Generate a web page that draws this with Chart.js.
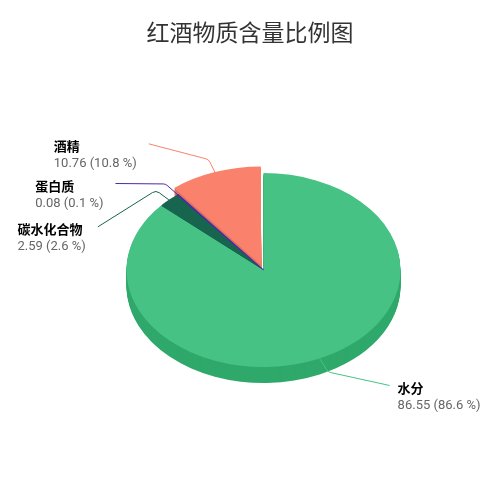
<!DOCTYPE html>
<html lang="zh">
<head>
<meta charset="utf-8">
<title>红酒物质含量比例图</title>
<script src="https://cdn.jsdelivr.net/npm/chart.js@4.4.1/dist/chart.umd.min.js"></script>
<style>
  html, body { margin: 0; padding: 0; background: #fff; }
</style>
</head>
<body>
<canvas id="chart" width="500" height="500"></canvas>
<script>
/* =============== Data =============== */
const chartTitle = "红酒物质含量比例图";
const categories = ["水分", "碳水化合物", "蛋白质", "酒精"];
const values = [86.55, 2.59, 0.08, 10.76];

/* =============== Look =============== */
const topColors  = ["#47c285", "#17644f", "#4b2aa8", "#fa826d"];
const sideColors = ["#2fa96b", "#0f4a3a", "#36207a", "#e0705d"];
const sliceOffsets = [0, 0, 0, 28];               // 酒精 pulled out
const labelShift = [[70, 27], [-71, 27], [-62, -11], [-67, -30]];
const tilt = 0.708;   // vertical squash of the pie face
const depth = 16;     // thickness of the pie, px

const labelFont = 'Roboto, "Noto Sans CJK SC", sans-serif';
const total = values.reduce((a, b) => a + b, 0);

/* =============== 3D helpers =============== */
function squash(ctx, cx, cy, dy) {
  ctx.translate(cx, cy + dy);
  ctx.scale(1, tilt);
  ctx.translate(-cx, -cy);
}

function drawLabels(chart) {
  const ctx = chart.ctx;
  const arcs = chart.getDatasetMeta(0).data;

  arcs.forEach((arc, i) => {
    const mid = (arc.startAngle + arc.endAngle) / 2;
    const push = (sliceOffsets[i] || 0) / 4;
    const r = arc.outerRadius + push;
    const px = arc.x + Math.cos(mid) * r;
    const py = arc.y + Math.sin(mid) * r * tilt;

    // crook point a bit further out, then off to the label
    let ux = Math.cos(mid), uy = Math.sin(mid) * tilt;
    const len = Math.hypot(ux, uy);
    ux /= len; uy /= len;
    const kx = px + ux * 16, ky = py + uy * 16;
    const ax = px + labelShift[i][0], ay = py + labelShift[i][1];

    ctx.save();
    ctx.strokeStyle = topColors[i];
    ctx.lineWidth = 1;
    ctx.beginPath();
    ctx.moveTo(ax, ay);
    ctx.arcTo(kx, ky, px, py, 6);
    ctx.lineTo(px, py);
    ctx.stroke();

    const pct = (values[i] / total * 100).toFixed(1);
    const line2 = `${values[i]} (${pct} %)`;

    ctx.textBaseline = "middle";
    ctx.textAlign = "left";
    ctx.font = "bold 13px " + labelFont;
    const w1 = ctx.measureText(categories[i]).width;
    ctx.font = "13px " + labelFont;
    const w2 = ctx.measureText(line2).width;
    const w = Math.max(w1, w2);
    const tx = labelShift[i][0] < 0 ? ax - 12 - w : ax + 8;

    ctx.font = "bold 13px " + labelFont;
    ctx.fillStyle = "#000";
    ctx.fillText(categories[i], tx, ay + 4);
    ctx.font = "13px " + labelFont;
    ctx.fillStyle = "#666";
    ctx.fillText(line2, tx, ay + 20);
    ctx.restore();
  });
}

const pie3d = {
  id: "pie3d",
  beforeDatasetsDraw(chart) {
    const ctx = chart.ctx;
    const arcs = chart.getDatasetMeta(0).data;
    const cx = arcs[0].x, cy = arcs[0].y;

    // side walls: every slice stacked downwards in its darker colour
    for (let d = depth; d >= 1; d--) {
      arcs.forEach((arc, i) => {
        const ghost = Object.create(arc);
        ghost.options = Object.assign({}, arc.options, {
          backgroundColor: sideColors[i],
          borderColor: sideColors[i]
        });
        ctx.save();
        squash(ctx, cx, cy, d);
        ghost.draw(ctx);
        ctx.restore();
      });
    }
    // top faces are drawn by Chart.js under this squash
    ctx.save();
    squash(ctx, cx, cy, 0);
  },
  afterDatasetsDraw(chart) {
    chart.ctx.restore();
    drawLabels(chart);
  },
  afterDraw(chart) {
    // title centred on the whole canvas (the pie itself sits a bit right)
    const ctx = chart.ctx;
    ctx.save();
    ctx.font = '23px "Noto Sans CJK SC", sans-serif';
    ctx.fillStyle = "#333";
    ctx.textAlign = "center";
    ctx.textBaseline = "middle";
    ctx.fillText(chartTitle, chart.width / 2, 32);
    ctx.restore();
  }
};

/* =============== Chart =============== */
new Chart(document.getElementById("chart"), {
  type: "pie",
  data: {
    labels: categories,
    datasets: [{
      data: values,
      backgroundColor: topColors,
      borderColor: topColors,
      borderWidth: [0, 0, 1.2, 0],
      offset: sliceOffsets,
      radius: 137
    }]
  },
  options: {
    responsive: false,
    animation: false,
    layout: { padding: { top: 40, left: 27, bottom: 0 } },
    plugins: {
      legend: { display: false },
      tooltip: { enabled: false },
      title: { display: false }
    }
  },
  plugins: [pie3d]
});
</script>
</body>
</html>
